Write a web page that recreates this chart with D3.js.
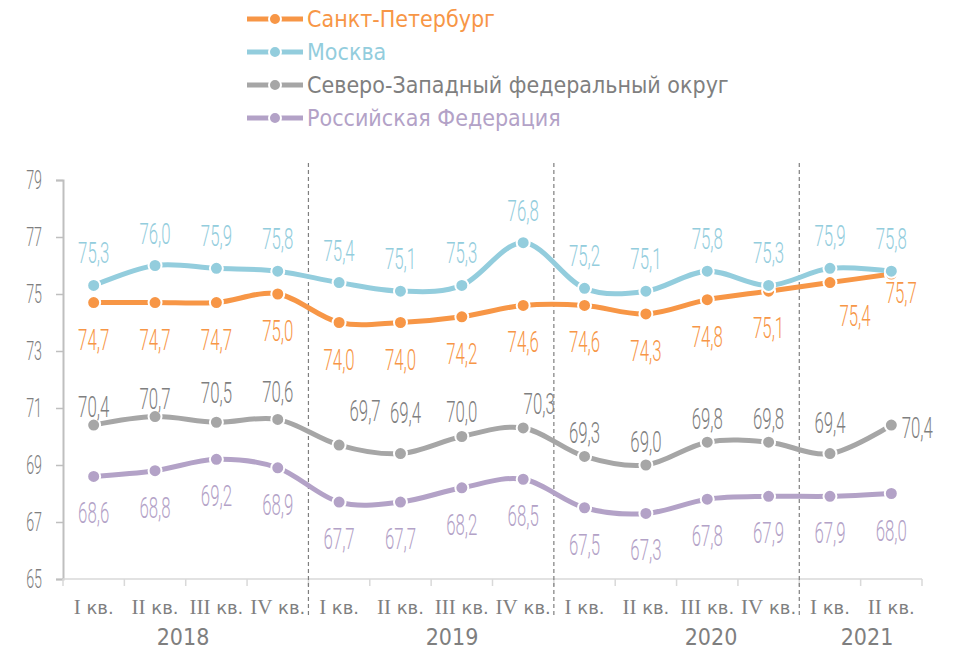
<!DOCTYPE html>
<html>
<head>
<meta charset="utf-8">
<script src="https://cdn.jsdelivr.net/npm/d3@7"></script>
<style>
  body { margin: 0; background: #fff; }
  svg { display: block; }
</style>
</head>
<body>
<div id="chart"></div>
<script>
// Данные графика
var quarters = ["I", "II", "III", "IV", "I", "II", "III", "IV", "I", "II", "III", "IV", "I", "II"];
var quarterYears = ["2018", "2018", "2018", "2018", "2019", "2019", "2019", "2019",
                    "2020", "2020", "2020", "2020", "2021", "2021"];
var yearLabels = ["2018", "2019", "2020", "2021"];

var spb  = [74.7, 74.7, 74.7, 75.0, 74.0, 74.0, 74.2, 74.6, 74.6, 74.3, 74.8, 75.1, 75.4, 75.7];
var msk  = [75.3, 76.0, 75.9, 75.8, 75.4, 75.1, 75.3, 76.8, 75.2, 75.1, 75.8, 75.3, 75.9, 75.8];
var szfo = [70.4, 70.7, 70.5, 70.6, 69.7, 69.4, 70.0, 70.3, 69.3, 69.0, 69.8, 69.8, 69.4, 70.4];
var rf   = [68.6, 68.8, 69.2, 68.9, 67.7, 67.7, 68.2, 68.5, 67.5, 67.3, 67.8, 67.9, 67.9, 68.0];

var yTicks = [65, 67, 69, 71, 73, 75, 77, 79];

var seriesNames = ["Санкт-Петербург", "Москва", "Северо-Западный федеральный округ", "Российская Федерация"];

// оформление серий
var series = [
  {name: seriesNames[0], values: spb,  line: "#F79646", text: "#F79646", dy: 36},
  {name: seriesNames[1], values: msk,  line: "#93CDDD", text: "#93CDDD", dy: -33},
  {name: seriesNames[2], values: szfo, line: "#A6A6A6", text: "#7F7F7F", dy: -24},
  {name: seriesNames[3], values: rf,   line: "#B3A2C7", text: "#B3A2C7", dy: 36}
];

// подписи, которые сдвинуты вручную: [dx, dy]
var labelMoves = {
  "0-12": [25, 32], "0-13": [10, 18],
  "2-0": [0, -19], "2-1": [0, -19], "2-2": [0, -30], "2-3": [0, -28],
  "2-4": [26, -35], "2-5": [5, -42], "2-6": [0, -26], "2-7": [16, -25],
  "2-12": [0, -32], "2-13": [26, 2]
};

var width = 955, height = 651;
var margin = {top: 180, left: 63, right: 33, bottom: 72};

var svg = d3.select("#chart").append("svg")
    .attr("width", width)
    .attr("height", height);

var x = d3.scaleBand()
    .domain(d3.range(quarters.length))
    .range([margin.left, width - margin.right]);

var y = d3.scaleLinear()
    .domain([65, 79])
    .range([height - margin.bottom, margin.top]);

var fmt = function(v) { return d3.format(".1f")(v).replace(".", ","); };
var condensed = "Roboto, 'DejaVu Sans', sans-serif";
var sans = "'DejaVu Sans Condensed', 'DejaVu Sans', sans-serif";

// ось Y
var yAxis = svg.append("g")
    .attr("transform", "translate(" + margin.left + ",0)")
    .call(d3.axisLeft(y).tickValues(yTicks).tickSize(7).tickPadding(0).tickFormat(""));
yAxis.select(".domain").attr("stroke", "#BFBFBF").attr("stroke-width", 2);
yAxis.selectAll(".tick line").attr("stroke", "#BFBFBF").attr("stroke-width", 1.5);

svg.selectAll(".ylab")
    .data(yTicks)
  .enter().append("text")
    .attr("class", "ylab")
    .attr("transform", function(d) { return "translate(42," + (y(d) + 9) + ") scale(0.55,1)"; })
    .attr("text-anchor", "end")
    .attr("font-family", condensed)
    .attr("font-weight", 300)
    .attr("font-size", 26)
    .attr("fill", "#7F7F7F")
    .text(function(d) { return d; });

// ось X
var xAxis = svg.append("g")
    .attr("transform", "translate(0," + y(65) + ")");
xAxis.append("line")
    .attr("x1", margin.left).attr("x2", width - margin.right)
    .attr("stroke", "#D9D9D9").attr("stroke-width", 1.5);
xAxis.selectAll(".xt")
    .data(d3.range(quarters.length + 1))
  .enter().append("line")
    .attr("x1", function(i) { return margin.left + i * x.step(); })
    .attr("x2", function(i) { return margin.left + i * x.step(); })
    .attr("y1", 0).attr("y2", 7)
    .attr("stroke", "#D9D9D9").attr("stroke-width", 1.5);

var qLab = svg.selectAll(".qlab")
    .data(quarters)
  .enter().append("text")
    .attr("class", "qlab")
    .attr("x", function(d, i) { return x(i) + x.bandwidth() / 2; })
    .attr("y", 614)
    .attr("text-anchor", "middle")
    .attr("fill", "#7F7F7F");
qLab.append("tspan")
    .attr("font-family", "'Liberation Serif', serif")
    .attr("font-size", 21)
    .text(function(d) { return d; });
qLab.append("tspan")
    .attr("font-family", "'DejaVu Sans', sans-serif")
    .attr("font-size", 18)
    .text(" кв.");

// подписи годов
var yearX = [183, 452, 711, 867];
svg.selectAll(".year")
    .data(yearLabels)
  .enter().append("text")
    .attr("class", "year")
    .attr("x", function(d, i) { return yearX[i]; })
    .attr("y", 645)
    .attr("text-anchor", "middle")
    .attr("font-family", sans)
    .attr("font-size", 23)
    .attr("fill", "#7F7F7F")
    .text(function(d) { return d; });

// пунктирные разделители лет
svg.selectAll(".sep")
    .data([4, 8, 12])
  .enter().append("line")
    .attr("x1", function(i) { return margin.left + i * x.step(); })
    .attr("x2", function(i) { return margin.left + i * x.step(); })
    .attr("y1", 163).attr("y2", 616)
    .attr("stroke", "#7F7F7F")
    .attr("stroke-width", 1.2)
    .attr("stroke-dasharray", "4,3");

// линии
var line = d3.line()
    .x(function(d, i) { return x(i) + x.bandwidth() / 2; })
    .y(function(d) { return y(d); })
    .curve(d3.curveCatmullRom.alpha(0));

series.forEach(function(s) {
  svg.append("path")
      .datum(s.values)
      .attr("fill", "none")
      .attr("stroke", s.line)
      .attr("stroke-width", 5)
      .attr("d", line);
  svg.selectAll(null)
      .data(s.values)
    .enter().append("circle")
      .attr("cx", function(d, i) { return x(i) + x.bandwidth() / 2; })
      .attr("cy", function(d) { return y(d); })
      .attr("r", 6.5)
      .attr("fill", s.line)
      .attr("stroke", "#fff")
      .attr("stroke-width", 2);
});

// подписи значений
series.forEach(function(s, k) {
  svg.selectAll(null)
      .data(s.values)
    .enter().append("text")
      .attr("transform", function(d, i) {
        var mv = labelMoves[k + "-" + i] || [0, s.dy];
        var cx = x(i) + x.bandwidth() / 2 + mv[0];
        var cy = y(d) + mv[1] + 11;
        return "translate(" + cx + "," + cy + ") scale(0.56,1)";
      })
      .attr("text-anchor", "middle")
      .attr("font-family", condensed)
      .attr("font-weight", 300)
      .attr("font-size", 30)
      .attr("fill", s.text)
      .text(function(d) { return fmt(d); });
});

// легенда
var legend = svg.selectAll(".legend")
    .data(series)
  .enter().append("g")
    .attr("class", "legend")
    .attr("transform", function(d, i) { return "translate(247," + (19 + i * 33) + ")"; });
legend.append("line")
    .attr("x1", 0).attr("x2", 56)
    .attr("stroke", function(d) { return d.line; })
    .attr("stroke-width", 5);
legend.append("circle")
    .attr("cx", 28).attr("r", 6)
    .attr("fill", function(d) { return d.line; })
    .attr("stroke", "#fff")
    .attr("stroke-width", 2);
legend.append("text")
    .attr("x", 60)
    .attr("y", 8)
    .attr("font-family", sans)
    .attr("font-size", 23)
    .attr("fill", function(d) { return d.text; })
    .text(function(d) { return d.name; });
</script>
</body>
</html>
